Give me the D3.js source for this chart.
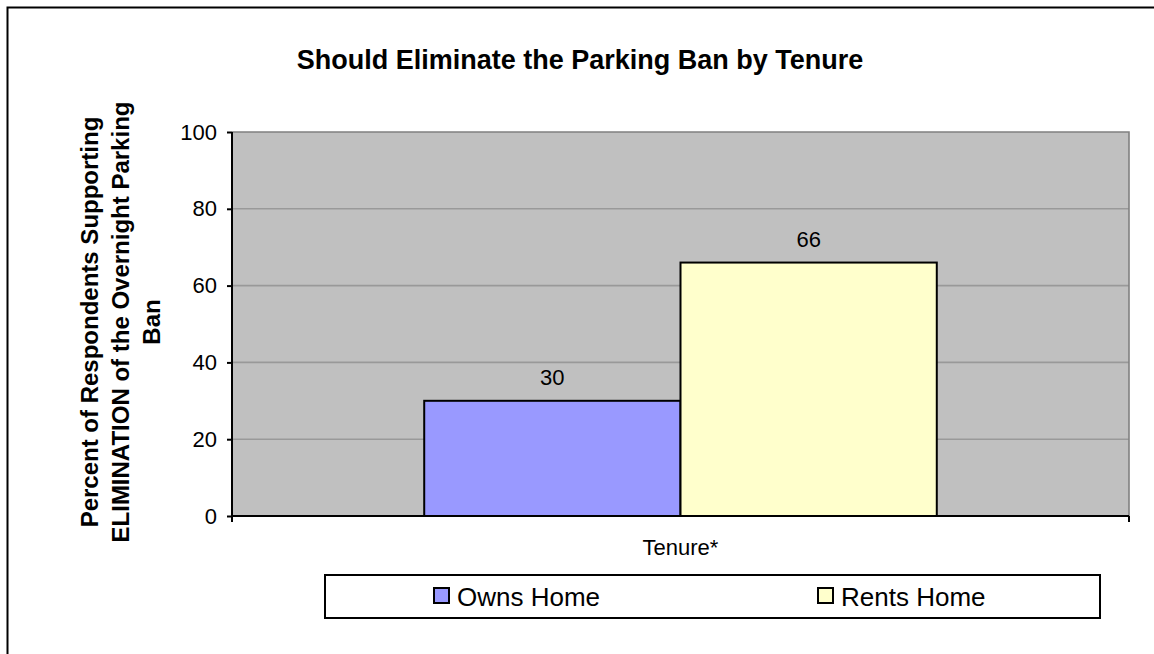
<!DOCTYPE html>
<html>
<head>
<meta charset="utf-8">
<script src="https://cdn.jsdelivr.net/npm/d3@7"></script>
<style>
  html, body { margin: 0; padding: 0; background: #ffffff; }
  svg { display: block; font-family: "Liberation Sans", Arial, sans-serif; }
</style>
</head>
<body>
<svg id="chart" width="1154" height="654"></svg>
<script>
// ---- data ----
const categories = ["Tenure*"];
const seriesNames = ["Owns Home", "Rents Home"];
const ownsValues = [30];
const rentsValues = [66];
const yTicks = [0, 20, 40, 60, 80, 100];
const chartTitle = "Should Eliminate the Parking Ban by Tenure";
const yTitleLines = ["Percent of Respondents Supporting", "ELIMINATION of the Overnight Parking", "Ban"];

// ---- layout ----
const colors = ["#9999FF", "#FFFFCC"];
const plot = { left: 232, right: 1129, top: 132, bottom: 516 };

const svg = d3.select("#chart");

// outer border (extends past the right/bottom edges like the reference)
svg.append("rect")
  .attr("x", 7.5).attr("y", 7.5)
  .attr("width", 1160).attr("height", 660)
  .attr("fill", "#fff").attr("stroke", "#000").attr("stroke-width", 2);

const y = d3.scaleLinear().domain([0, 100]).range([plot.bottom, plot.top]);
const x0 = d3.scaleBand().domain(categories).range([plot.left, plot.right]).paddingInner(0).paddingOuter(0);
// Excel gap width 150%
const barW = x0.bandwidth() / (seriesNames.length + 1.5);
const x1 = d3.scaleBand().domain(seriesNames)
  .range([barW * 0.75, barW * 0.75 + barW * seriesNames.length]).padding(0);

// plot area
svg.append("rect")
  .attr("x", plot.left).attr("y", plot.top)
  .attr("width", plot.right - plot.left).attr("height", plot.bottom - plot.top)
  .attr("fill", "#C0C0C0");

// gridlines
svg.append("g").selectAll("line").data(yTicks.filter(d => d > 0 && d < 100)).join("line")
  .attr("x1", plot.left).attr("x2", plot.right)
  .attr("y1", d => y(d)).attr("y2", d => y(d))
  .attr("stroke", "#999999").attr("stroke-width", 1.6);
// top and right border of plot area
svg.append("path")
  .attr("d", `M${plot.left},${plot.top}H${plot.right}V${plot.bottom}`)
  .attr("fill", "none").attr("stroke", "#808080").attr("stroke-width", 1.6);

// bars
const rows = categories.map((c, i) => ({ cat: c, vals: [ownsValues[i], rentsValues[i]] }));
const gBars = svg.append("g");
rows.forEach(r => {
  r.vals.forEach((v, j) => {
    const bx = x0(r.cat) + x1(seriesNames[j]);
    gBars.append("rect")
      .attr("x", bx).attr("y", y(v))
      .attr("width", x1.bandwidth()).attr("height", y(0) - y(v))
      .attr("fill", colors[j]).attr("stroke", "#000").attr("stroke-width", 2);
    gBars.append("text")
      .attr("x", bx + x1.bandwidth() / 2).attr("y", y(v) - 16)
      .attr("text-anchor", "middle")
      .attr("font-size", 22).attr("fill", "#000")
      .text(v);
  });
});

// y axis
const yAxis = d3.axisLeft(y).tickValues(yTicks).tickSize(5).tickPadding(10).tickFormat(d3.format("d"));
const gy = svg.append("g").attr("transform", `translate(${plot.left},0)`).call(yAxis);
gy.select(".domain").attr("stroke", "#000").attr("stroke-width", 2).attr("d", `M0,${plot.top}V${plot.bottom}`);
gy.selectAll(".tick line").attr("stroke", "#000").attr("stroke-width", 2);
gy.selectAll(".tick text").attr("font-size", 22).attr("fill", "#000").attr("font-family", "Liberation Sans, Arial, sans-serif");

// x axis
const xAxis = d3.axisBottom(x0).tickSize(0).tickFormat(() => "");
const gx = svg.append("g").attr("transform", `translate(0,${plot.bottom})`).call(xAxis);
gx.select(".domain").attr("stroke", "#000").attr("stroke-width", 2).attr("d", `M${plot.left},0H${plot.right}`);
// end ticks at the category boundaries
gx.selectAll(".edge").data([plot.left, plot.right]).join("line")
  .attr("x1", d => d).attr("x2", d => d).attr("y1", 0).attr("y2", 6)
  .attr("stroke", "#000").attr("stroke-width", 2);
svg.append("text")
  .attr("x", x0(categories[0]) + x0.bandwidth() / 2).attr("y", 555)
  .attr("text-anchor", "middle").attr("font-size", 22).attr("fill", "#000")
  .text(categories[0]);

// title
svg.append("text")
  .attr("x", 580).attr("y", 69)
  .attr("text-anchor", "middle").attr("font-size", 27).attr("font-weight", "bold")
  .text(chartTitle);

// y title
const yt = svg.append("text")
  .attr("transform", "translate(0,322) rotate(-90)")
  .attr("text-anchor", "middle").attr("font-size", 24).attr("font-weight", "bold");
const yTitleBase = [98, 129, 160];
yTitleLines.forEach((l, i) => {
  yt.append("tspan").attr("x", 0).attr("y", yTitleBase[i]).text(l);
});

// legend
const legend = svg.append("g");
legend.append("rect")
  .attr("x", 325).attr("y", 575).attr("width", 775).attr("height", 43)
  .attr("fill", "#fff").attr("stroke", "#000").attr("stroke-width", 2);
const legendX = [433, 817];
seriesNames.forEach((s, i) => {
  legend.append("rect")
    .attr("x", legendX[i] + 1).attr("y", 588).attr("width", 15).attr("height", 15)
    .attr("fill", colors[i]).attr("stroke", "#000").attr("stroke-width", 2);
  legend.append("text")
    .attr("x", legendX[i] + 24).attr("y", 606)
    .attr("font-size", 26).attr("fill", "#000")
    .text(s);
});
</script>
</body>
</html>
